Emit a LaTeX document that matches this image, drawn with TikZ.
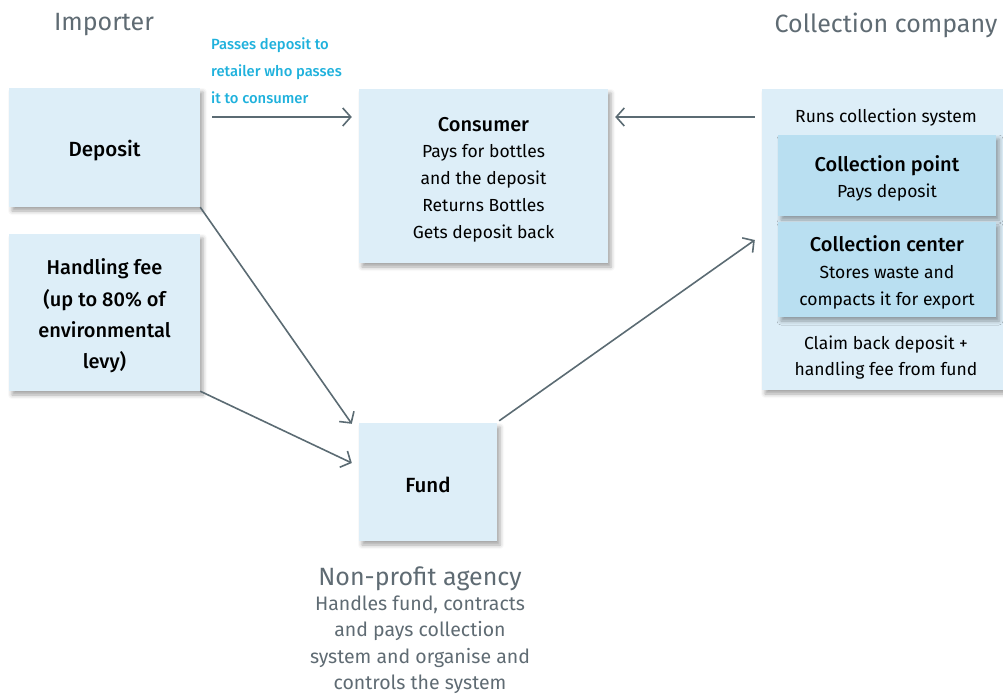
\documentclass[tikz,border=0pt]{standalone}
\usepackage{fontspec}
\setmainfont{Fira Sans}[BoldFont={Fira Sans Medium}]
\usetikzlibrary{arrows.meta,shadows.blur}
\definecolor{boxfill}{HTML}{DDEEF8}
\definecolor{boxdark}{HTML}{B9DFF1}
\definecolor{arrowc}{HTML}{5B6B73}
\definecolor{greytxt}{HTML}{5F6B73}
\definecolor{cyantxt}{HTML}{1FB1DC}
\newcommand{\bhead}[1]{\textbf{\fontsize{20}{26.7}\selectfont #1}}
\begin{document}
\begin{tikzpicture}[x=1pt,y=-1pt,
  shad/.style={blur shadow={shadow xshift=3pt,shadow yshift=-4pt,shadow blur radius=4pt,shadow opacity=35}},
  box/.style={fill=boxfill, draw=none, inner sep=0pt, shad},
  darkbox/.style={box, fill=boxdark},
  txt/.style={inner sep=0pt, align=center, font=\fontsize{17.5}{26.7}\selectfont},
  head/.style={inner sep=0pt, text=greytxt, font=\fontsize{25}{30}\selectfont},
  flow/.style={draw=arrowc, line width=1.6pt, -{Straight Barb[length=8pt,width=18pt]}}
]
\useasboundingbox (0,0) rectangle (1003,695);

% headings
\node[head] (imp) at (104,25) {Importer};
\node[head] (colh) at (886,25) {Collection company};

% boxes
\node[box, minimum width=191pt, minimum height=119pt] (dep) at (104.5,147.5) {};
\node[box, minimum width=191pt, minimum height=157pt] (hand) at (104.5,312.5) {};
\node[box, minimum width=249pt, minimum height=174pt] (cons) at (483.5,176) {};
\node[box, minimum width=138pt, minimum height=118pt] (fund) at (428,482) {};
\node[box, minimum width=241pt, minimum height=301pt] (outer) at (882.5,239.5) {};
\node[darkbox, minimum width=218pt, minimum height=81pt] (cp) at (887,175.5) {};
\node[darkbox, minimum width=218pt, minimum height=95pt] (cc) at (887,269.5) {};

% box texts
\node[txt, font=\bfseries\fontsize{20.5}{26.7}\selectfont] (dept) at ([yshift=-3pt]dep.center) {Deposit};
\node[txt, font=\bfseries\fontsize{20}{31.3}\selectfont] (handt) at ([yshift=-3.5pt]hand.center)
  {Handling fee\\(up to 80\% of\\environmental\\levy)};
\node[txt] (const) at ([yshift=-3.5pt]cons.center)
  {\bhead{Consumer}\\Pays for bottles\\and the deposit\\Returns Bottles\\Gets deposit back};
\node[txt, font=\bfseries\fontsize{20.5}{26.7}\selectfont] (fundt) at ([yshift=-2.5pt]fund.center) {Fund};
\node[txt] (cpt) at ([yshift=-3pt]cp.center)
  {\bhead{Collection point}\\Pays deposit};
\node[txt] (cct) at ([yshift=-3pt]cc.center)
  {\bhead{Collection center}\\Stores waste and\\compacts it for export};
\node[txt] (runs) at (886,118) {Runs collection system};
\node[txt] (claim) at (886,357.5) {Claim back deposit +\\handling fee from fund};

% label on top arrow
\node[inner sep=0pt, align=left, anchor=west, text=cyantxt, font=\bfseries\fontsize{14.8}{27}\selectfont] (lbl) at (211,71)
  {Passes deposit to\\retailer who passes\\it to consumer};

% non-profit agency text
\node[head] (npa) at (420,579) {Non-profit agency};
\node[txt, text=greytxt, anchor=north, font=\fontsize{19.5}{26.4}\selectfont] (npt) at (420,595.5)
  {Handles fund, contracts\\and pays collection\\system and organise and\\controls the system};

% connectors
\draw[flow] ([shift={(12,-30.5)}]dep.east) -- ([shift={(-7,-59)}]cons.west);
\draw[flow] ([shift={(-7,-122.5)}]outer.west) -- ([shift={(7,-59)}]cons.east);
\draw[flow] (dep.south east) -- ([shift={(-7,1)}]fund.north west);
\draw[flow] (hand.south east) -- ([shift={(-7,-19)}]fund.west);
\draw[flow] ([shift={(2,-2)}]fund.north east) -- ([shift={(-23,-29.5)}]cc.west);
\end{tikzpicture}
\end{document}
